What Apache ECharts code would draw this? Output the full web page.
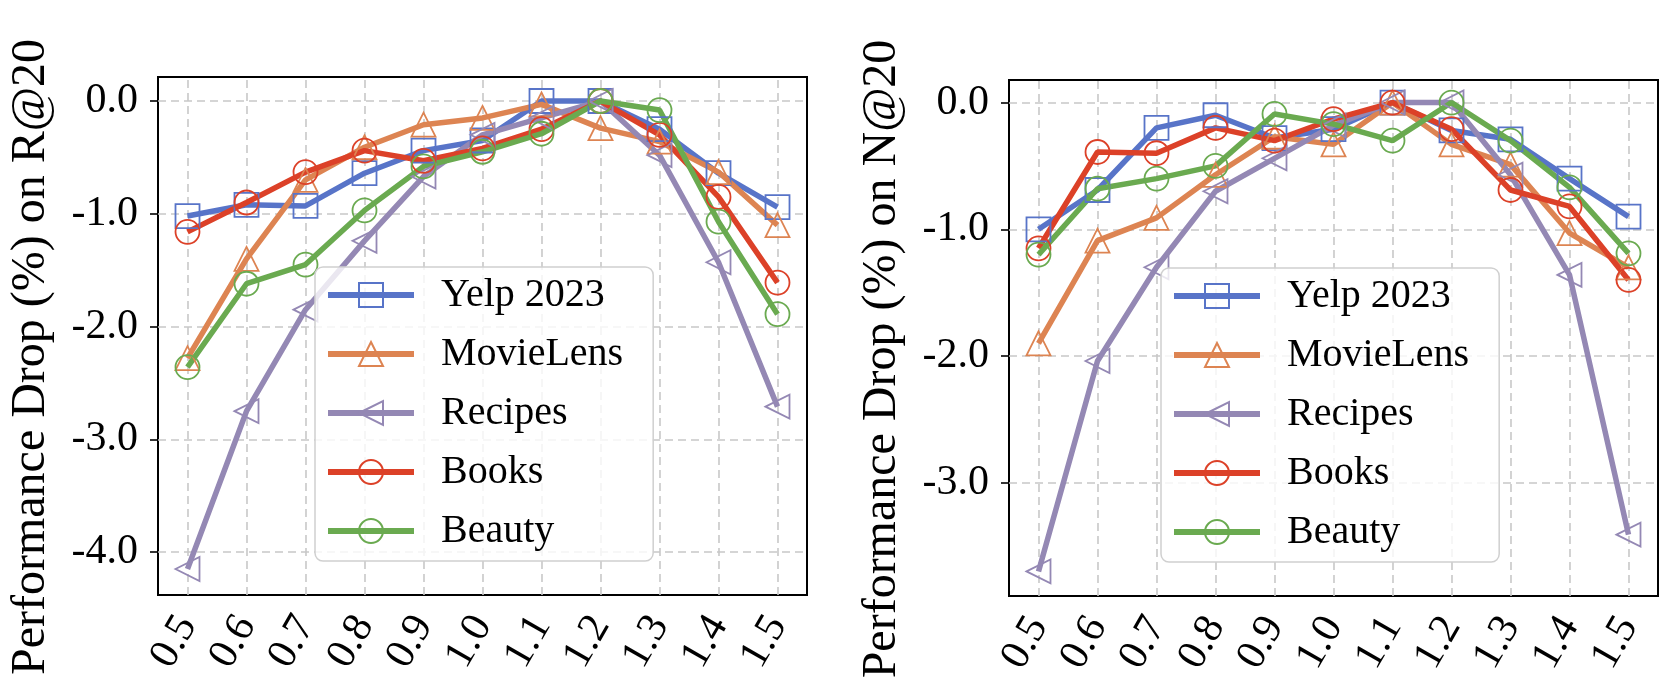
<!DOCTYPE html>
<html>
<head>
<meta charset="utf-8">
<script src="https://cdn.jsdelivr.net/npm/echarts@6/dist/echarts.min.js"></script>
<style>
  html, body { margin: 0; padding: 0; background: #fff; }
  #main { width: 1670px; height: 684px; }
</style>
</head>
<body>
<div id="main"></div>
<script>
var ratios = ['0.5', '0.6', '0.7', '0.8', '0.9', '1.0', '1.1', '1.2', '1.3', '1.4', '1.5'];
var datasets = ['Yelp 2023', 'MovieLens', 'Recipes', 'Books', 'Beauty'];

// R@20 drop (left panel)
var yelpR    = [-1.02, -0.92, -0.93, -0.64, -0.44, -0.35, 0.0, 0.0, -0.25, -0.64, -0.94];
var movieR   = [-2.28, -1.40, -0.70, -0.41, -0.21, -0.15, -0.03, -0.24, -0.36, -0.63, -1.10];
var recipesR = [-4.15, -2.75, -1.85, -1.24, -0.67, -0.30, -0.15, 0.0, -0.48, -1.43, -2.71];
var booksR   = [-1.16, -0.90, -0.63, -0.44, -0.53, -0.42, -0.25, 0.0, -0.30, -0.85, -1.61];
var beautyR  = [-2.36, -1.62, -1.45, -0.97, -0.58, -0.45, -0.29, 0.0, -0.08, -1.07, -1.89];

// N@20 drop (right panel)
var yelpN    = [-1.00, -0.69, -0.20, -0.10, -0.28, -0.21, 0.0, -0.22, -0.29, -0.60, -0.90];
var movieN   = [-1.90, -1.09, -0.91, -0.57, -0.27, -0.33, 0.0, -0.33, -0.49, -1.03, -1.30];
var recipesN = [-3.70, -2.04, -1.30, -0.70, -0.44, -0.18, 0.0, 0.0, -0.57, -1.36, -3.41];
var booksN   = [-1.15, -0.39, -0.40, -0.20, -0.30, -0.13, 0.0, -0.21, -0.69, -0.82, -1.40];
var beautyN  = [-1.20, -0.68, -0.60, -0.50, -0.09, -0.17, -0.30, 0.0, -0.30, -0.67, -1.19];

var ticksR = [0, -1, -2, -3, -4];
var ticksN = [0, -1, -2, -3];

var colors  = ['#5874c8', '#dd8452', '#9488b4', '#dc4128', '#6aaa50'];
var symbols = ['rect', 'triangle', 'triangle', 'circle', 'circle'];
var rotates = [0, 0, 90, 0, 0];
var FONT = '"Liberation Serif", "Times New Roman", serif';

var chart = echarts.init(document.getElementById('main'));

function makeSeries(name, i, values, idx) {
    return {
        name: name,
        type: 'line',
        xAxisIndex: idx,
        yAxisIndex: idx,
        data: values,
        symbol: symbols[i],
        symbolSize: 24,
        symbolRotate: rotates[i],
        showAllSymbol: true,
        z: 3,
        lineStyle: { color: colors[i], width: 5.5 },
        itemStyle: { color: 'rgba(255,255,255,0)', borderColor: colors[i], borderWidth: 1.8 },
        emphasis: { disabled: true }
    };
}

// dashed grid lines at each tick, drawn under the curves
function gridSeries(idx, yTicks) {
    var lines = ratios.map(function (r) { return { xAxis: r }; })
        .concat(yTicks.map(function (v) { return { yAxis: v }; }));
    return {
        name: 'grid' + idx,
        type: 'line',
        xAxisIndex: idx,
        yAxisIndex: idx,
        data: [],
        z: 1,
        silent: true,
        markLine: {
            silent: true,
            z: 1,
            symbol: ['none', 'none'],
            label: { show: false },
            lineStyle: { color: '#c8c8c8', type: [8, 5], width: 1.6 },
            data: lines
        }
    };
}

function xAxisOpt(idx) {
    return {
        type: 'category',
        gridIndex: idx,
        data: ratios,
        boundaryGap: true,
        axisLine: { onZero: false, lineStyle: { color: '#000', width: 2 } },
        axisTick: { alignWithLabel: true, length: 8, lineStyle: { color: '#000', width: 1.6 } },
        axisLabel: { rotate: 60, margin: 24, fontFamily: FONT, fontSize: 42, color: '#000', interval: 0 },
        splitLine: { show: false }
    };
}

function yAxisOpt(idx, min, max, ticks, title) {
    return {
        type: 'value',
        gridIndex: idx,
        min: min,
        max: max,
        name: title,
        nameLocation: 'middle',
        nameRotate: 90,
        nameGap: 103,
        nameTextStyle: { fontFamily: FONT, fontSize: 48, color: '#000', padding: [0, 42, 0, 0] },
        axisLine: { show: true, onZero: false, lineStyle: { color: '#000', width: 2 } },
        axisTick: { show: true, length: 8, customValues: ticks, lineStyle: { color: '#000', width: 1.6 } },
        axisLabel: {
            margin: 20, fontFamily: FONT, fontSize: 42, color: '#000',
            customValues: ticks,
            formatter: function (v) { return v.toFixed(1); }
        },
        splitLine: { show: false }
    };
}

function legendOpt(left, top) {
    return {
        data: datasets,
        orient: 'vertical',
        left: left,
        top: top,
        itemWidth: 86,
        itemHeight: 30,
        itemGap: 19,
        padding: [8, 30, 10, 10],
        backgroundColor: 'rgba(255,255,255,0.8)',
        borderColor: '#d0d0d0',
        borderWidth: 1.5,
        borderRadius: 8,
        lineStyle: { width: 6 },
        textStyle: { fontFamily: FONT, fontSize: 40, color: '#000', lineHeight: 40, padding: [0, 0, 0, 22] },
        selectedMode: false
    };
}

var seriesR = [yelpR, movieR, recipesR, booksR, beautyR];
var seriesN = [yelpN, movieN, recipesN, booksN, beautyN];

var series = [gridSeries(0, ticksR), gridSeries(1, ticksN)];
datasets.forEach(function (name, i) {
    series.push(makeSeries(name, i, seriesR[i], 0));
    series.push(makeSeries(name, i, seriesN[i], 1));
});

chart.setOption({
    animation: false,
    backgroundColor: '#fff',
    grid: [
        { left: 158, top: 77, width: 649, height: 518, outerBoundsMode: 'none', containLabel: false,
          show: true, borderColor: '#000', borderWidth: 2, backgroundColor: 'transparent' },
        { left: 1009, top: 80, width: 649, height: 516, outerBoundsMode: 'none', containLabel: false,
          show: true, borderColor: '#000', borderWidth: 2, backgroundColor: 'transparent' }
    ],
    xAxis: [xAxisOpt(0), xAxisOpt(1)],
    yAxis: [
        yAxisOpt(0, -4.38, 0.213, ticksR, 'Performance Drop (%) on R@20'),
        yAxisOpt(1, -3.894, 0.178, ticksN, 'Performance Drop (%) on N@20')
    ],
    legend: [legendOpt(315, 267), legendOpt(1161, 268)],
    series: series
});
</script>
</body>
</html>
